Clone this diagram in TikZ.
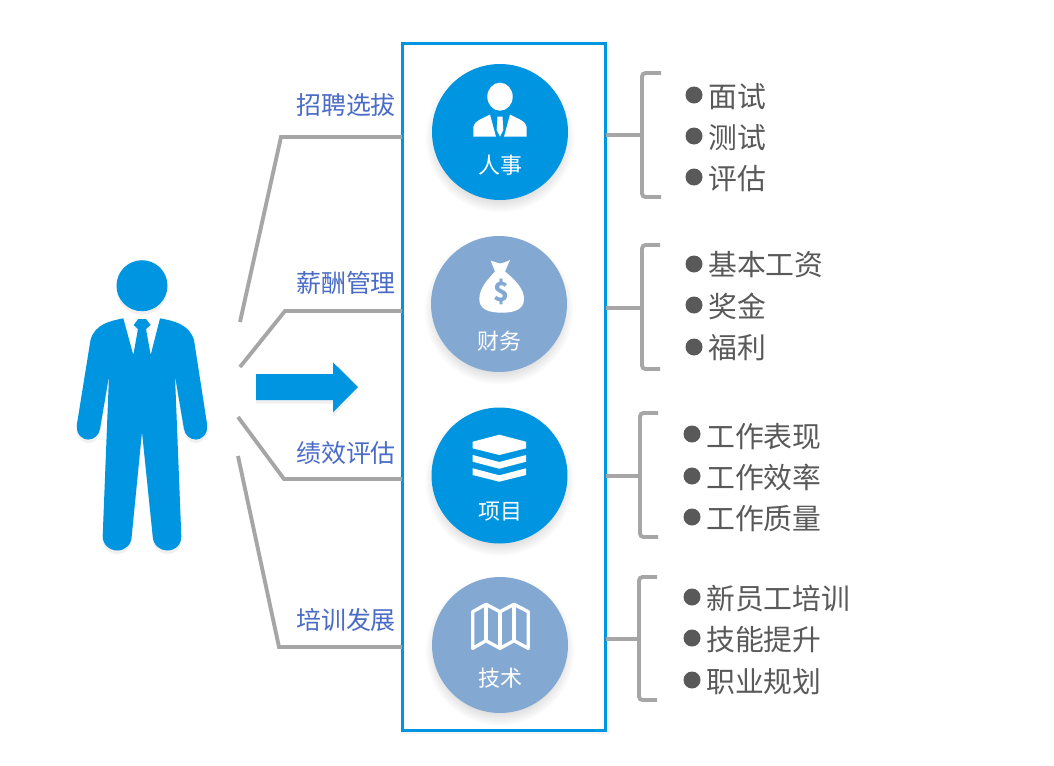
\documentclass[tikz,border=0pt]{standalone}
\usepackage{fontspec}
\setmainfont{Noto Sans CJK SC}
\usetikzlibrary{shadows}
\definecolor{mainblue}{HTML}{0095E0}
\definecolor{softblue}{HTML}{83A9D3}
\definecolor{linegrey}{HTML}{A6A6A6}
\definecolor{labelblue}{HTML}{4A6CC6}
\definecolor{itemgrey}{HTML}{595959}
\tikzset{
  softdrop/.style={drop shadow={shadow xshift=0pt,shadow yshift=-2pt,opacity=.06,fill=black}},
  disc/.style={circle,inner sep=0pt,minimum size=2.72cm},
  disctext/.style={text=white,font=\fontsize{12.5}{14}\selectfont},
  hrlabel/.style={text=labelblue,font=\fontsize{14.2}{16}\selectfont},
  itemtext/.style={anchor=west,inner sep=0pt,text=itemgrey,font=\fontsize{16.4}{18}\selectfont},
  bullet/.style={circle,fill=itemgrey,inner sep=0pt,minimum size=.34cm},
  greyline/.style={draw=linegrey,line width=2.2pt},
  bracketline/.style={draw=linegrey,line width=2.2pt,rounded corners=2pt},
}
\newcommand{\discshadow}[2]{\foreach \r in {60,62,...,74}{\fill[black,opacity=.02] (#1,#2+6) circle[radius=\r];}}
\begin{document}
\begin{tikzpicture}[x=0.02cm,y=-0.02cm]
\useasboundingbox (0,0) rectangle (1054,765);
\fill[white] (0,0) rectangle (1054,765);
% person
\fill[mainblue,softdrop] (142,285.7) circle[radius=25.5];
\fill[mainblue,softdrop] (123.3,318.3) .. controls (110,321) and (95,324) .. (90.5,340)
  -- (76.8,425) .. controls (76,435) and (83,439.6) .. (88,439.6) .. controls (94,439.6) and (99,435) .. (100,429)
  -- (109,376) -- (102.7,536) .. controls (102.5,545) and (110,550.5) .. (117.3,550.5) .. controls (125,550.5) and (131.5,545) .. (131.7,536)
  -- (142,431.7) -- (152.7,536) .. controls (153,545) and (160,550.5) .. (167,550.5) .. controls (175,550.5) and (181.5,545) .. (181.3,536)
  -- (175,376) -- (184,429) .. controls (185,435) and (190,439.6) .. (196,439.6) .. controls (201,439.6) and (208,435) .. (207.2,425)
  -- (194,340) .. controls (189,324) and (174,321) .. (160,318.3)
  -- (150.7,355) -- (146,329) -- (150.7,325) -- (146,319) -- (138.3,319) -- (133.7,325) -- (138,329) -- (133.3,355) -- cycle;
% arrow
\fill[mainblue,softdrop] (256,374) -- (333,374) -- (333,362.3) -- (358,387) -- (333,412.3) -- (333,400) -- (256,400) -- cycle;
% panel
\node[draw=mainblue,line width=1.7pt,fill=white,inner sep=0pt,outer sep=0pt,minimum width=4.08cm,minimum height=13.76cm,
  drop shadow={shadow xshift=2pt,shadow yshift=-2pt,opacity=.04,fill=black}] (panel) at (504,387) {};
% left connectors
\coordinate (c1) at (240,322);
\coordinate (e1) at (281,137);
\coordinate (c2) at (240,367);
\coordinate (e2) at (285,311);
\coordinate (c3) at (238,417);
\coordinate (e3) at (284,479);
\coordinate (c4) at (238,456);
\coordinate (e4) at (279,647);
\path[greyline] (c1) -- (e1) -- (e1 -| panel.west);
\path[greyline] (c2) -- (e2) -- (e2 -| panel.west);
\path[greyline] (c3) -- (e3) -- (e3 -| panel.west);
\path[greyline] (c4) -- (e4) -- (e4 -| panel.west);
\node[hrlabel] (l1) at (346,105) {招聘选拔};
\node[hrlabel] (l2) at (346,283) {薪酬管理};
\node[hrlabel] (l3) at (346,453) {绩效评估};
\node[hrlabel] (l4) at (346,620) {培训发展};
% discs
\discshadow{500}{132}
\discshadow{499}{304}
\discshadow{499.5}{475.5}
\discshadow{500}{645}
\node[disc,fill=mainblue] (d1) at (500,132) {};
\node[disc,fill=softblue] (d2) at (499,304) {};
\node[disc,fill=mainblue] (d3) at (499.5,475.5) {};
\node[disc,fill=softblue] (d4) at (500,645) {};
\node[disctext] (t1) at (500,165) {人事};
\node[disctext] (t2) at (499,341) {财务};
\node[disctext] (t3) at (500,512) {项目};
\node[disctext] (t4) at (500,678) {技术};
% icon person
\fill[white] (500,96.7) ellipse[x radius=12.7,y radius=14];
\fill[white] (473.3,136.7) -- (473.3,127) .. controls (474,121) and (482,119) .. (490,114.5) -- (496,136.7) -- cycle;
\fill[white] (526.7,136.7) -- (526.7,127) .. controls (526,121) and (518,119) .. (510,114.5) -- (504,136.7) -- cycle;
\fill[white] (497.5,116.5) -- (502.5,116.5) -- (503.3,130) -- (500,136.7) -- (496.7,130) -- cycle;
% icon bag
\fill[white] (490.7,260.7) .. controls (495,262) and (498,263) .. (500,263.5) .. controls (503,263) and (506,262) .. (510,260)
  -- (505,271.5) .. controls (514,279) and (524,288) .. (524,299) .. controls (524,309) and (515,312.7) .. (502,312.7)
  .. controls (488,312.7) and (479.3,309) .. (479.3,299) .. controls (479.3,288) and (488,279) .. (495,271.5) -- cycle;
\node[text=softblue,inner sep=0pt,font=\bfseries\fontsize{15}{16}\selectfont] (dollar) at (501.5,292) {\$};
% icon layers
\fill[white] (499.3,434.7) -- (526,441.7) -- (526,448.3) -- (499.3,455) -- (472.7,448.3) -- (472.7,441.7) -- cycle;
\fill[white] (472.7,455) -- (499.3,462) -- (526,455) -- (526,461.7) -- (499.3,468.7) -- (472.7,461.7) -- cycle;
\fill[white] (472.7,468.3) -- (499.3,475.3) -- (526,468.3) -- (526,475) -- (499.3,481.7) -- (472.7,475) -- cycle;
% icon map
\path[draw=white,line width=1.9pt,line join=round] (472.7,611.7) -- (486,604.3) -- (500,611.7) -- (514,604.3) -- (528.3,611.7)
  -- (528.3,648.3) -- (514,640.7) -- (500,648.3) -- (486,640.7) -- (472.7,648.3) -- cycle;
\path[draw=white,line width=1.9pt] (486,604.3) -- (486,640.7);
\path[draw=white,line width=1.9pt] (500,611.7) -- (500,648.3);
\path[draw=white,line width=1.9pt] (514,604.3) -- (514,640.7);
% right brackets
\coordinate (s1) at (642,135);
\coordinate (s2) at (642,308);
\coordinate (s3) at (640,476);
\coordinate (s4) at (639,639);
\path[greyline] (panel.east |- s1) -- (s1);
\path[greyline] (panel.east |- s2) -- (s2);
\path[greyline] (panel.east |- s3) -- (s3);
\path[greyline] (panel.east |- s4) -- (s4);
\path[bracketline] (661,73) -- (642,73) -- (642,197) -- (661,197);
\path[bracketline] (660,245) -- (642,245) -- (642,369) -- (660,369);
\path[bracketline] (658,413) -- (640,413) -- (640,537) -- (658,537);
\path[bracketline] (657,577) -- (639,577) -- (639,700) -- (657,700);
% items
\node[bullet] (b11) at (694,95) {};
\node[bullet] (b12) at (694,136) {};
\node[bullet] (b13) at (694,177) {};
\node[itemtext] (i11) at (708,96.5) {面试};
\node[itemtext] (i12) at (708,137.5) {测试};
\node[itemtext] (i13) at (708,178.5) {评估};
\node[bullet] (b21) at (694,264) {};
\node[bullet] (b22) at (694,305) {};
\node[bullet] (b23) at (694,347) {};
\node[itemtext] (i21) at (708,265) {基本工资};
\node[itemtext] (i22) at (708,306.5) {奖金};
\node[itemtext] (i23) at (708,347.5) {福利};
\node[bullet] (b31) at (692,434) {};
\node[bullet] (b32) at (692,476) {};
\node[bullet] (b33) at (692,517) {};
\node[itemtext] (i31) at (706,436.5) {工作表现};
\node[itemtext] (i32) at (706,477.5) {工作效率};
\node[itemtext] (i33) at (706,518.5) {工作质量};
\node[bullet] (b41) at (692,597) {};
\node[bullet] (b42) at (692,638) {};
\node[bullet] (b43) at (692,680) {};
\node[itemtext] (i41) at (706,598.5) {新员工培训};
\node[itemtext] (i42) at (706,639.5) {技能提升};
\node[itemtext] (i43) at (706,681.5) {职业规划};
\end{tikzpicture}
\end{document}
